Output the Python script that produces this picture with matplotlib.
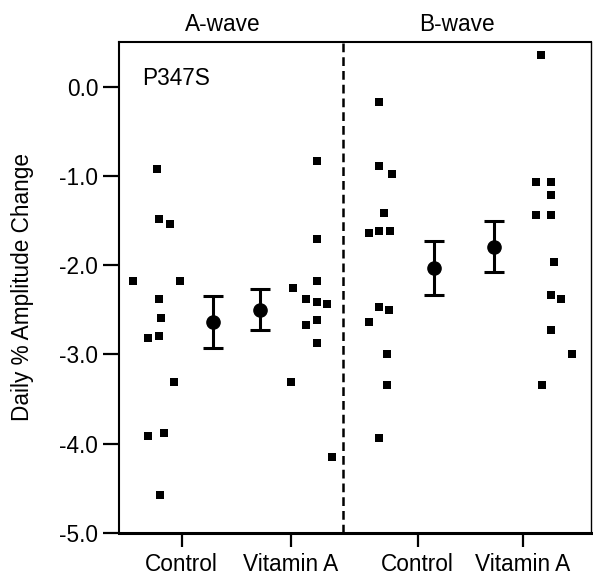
import matplotlib
matplotlib.use("Agg")
import matplotlib.pyplot as plt
from matplotlib.transforms import blended_transform_factory

plt.rcParams['font.family'] = ['Liberation Sans', 'DejaVu Sans']

# ---- data (x in arbitrary horizontal units 0..100, y in daily % change) ----
tick_pos = [13.3, 36.4, 63.3, 85.6]
tick_labels = ["Control", "Vitamin A", "Control", "Vitamin A"]
divider_x = 47.5
wave_labels = ["A-wave", "B-wave"]
wave_label_x = [22.0, 71.6]

ctrlA_x = [2.9, 8.1, 8.5, 10.7, 12.9, 8.5, 8.9, 6.2, 8.4, 11.7, 6.2, 9.5, 8.7]
ctrlA_y = [-2.18, -0.92, -1.48, -1.54, -2.18, -2.38, -2.59, -2.82, -2.79, -3.31, -3.91, -3.885, -4.58]

vitA_x = [36.9, 41.9, 39.7, 41.9, 44.1, 39.7, 41.9, 41.9, 36.4, 45.1, 42.0, 41.9]
vitA_y = [-2.26, -2.18, -2.38, -2.41, -2.44, -2.67, -2.61, -2.87, -3.31, -4.15, -0.835, -1.71]

ctrlB_x = [55.1, 55.1, 57.9, 56.2, 53.0, 55.1, 57.4, 55.1, 57.3, 53.0, 56.7, 56.7, 55.0]
ctrlB_y = [-0.17, -0.89, -0.98, -1.41, -1.64, -1.62, -1.62, -2.47, -2.50, -2.64, -2.99, -3.34, -3.94]

vitB_x = [89.5, 88.3, 91.5, 91.5, 88.3, 91.5, 92.2, 91.5, 93.7, 91.5, 95.9, 89.7]
vitB_y = [0.35, -1.07, -1.07, -1.21, -1.44, -1.44, -1.965, -2.33, -2.38, -2.73, -2.99, -3.34]

mean_x = [20.0, 29.9, 66.7, 79.4]
mean_y = [-2.64, -2.50, -2.03, -1.80]
err_lo = [0.29, 0.23, 0.30, 0.28]
err_hi = [0.29, 0.23, 0.30, 0.29]

yticks = [0.0, -1.0, -2.0, -3.0, -4.0, -5.0]

FS = 16.3

# ---- figure ----
fig = plt.figure(figsize=(5.93, 5.77), dpi=100)
ax = fig.add_axes([0.2007, 0.0763, 0.7959, 0.8509])

for xs, ys in [(ctrlA_x, ctrlA_y), (vitA_x, vitA_y), (ctrlB_x, ctrlB_y), (vitB_x, vitB_y)]:
    ax.plot(xs, ys, linestyle='none', marker='s', markersize=5.2, color='black',
            markeredgewidth=0)

ax.errorbar(mean_x, mean_y, yerr=[err_lo, err_hi], fmt='o', color='black',
            markersize=9.5, elinewidth=2.2, capsize=7, capthick=2.2)

ax.axvline(divider_x, color='black', linestyle=(0, (3.5, 2.0)), linewidth=1.8)

ax.set_xlim(0, 100)
ax.set_ylim(-5.0, 0.5)
ax.set_yticks(yticks)
ax.set_yticklabels([f"{v:.1f}" for v in yticks])
ax.set_xticks(tick_pos)
ax.set_xticklabels(tick_labels)

ax.tick_params(axis='y', length=11.5, width=1.6, pad=3.5, labelsize=FS)
ax.tick_params(axis='x', length=10, width=1.6, pad=4.5, labelsize=FS)

for side in ['left', 'top', 'right']:
    ax.spines[side].set_linewidth(1.5)
ax.spines['bottom'].set_linewidth(2.2)
ax.spines['right'].set_linewidth(1.0)

ax.set_ylabel("Daily % Amplitude Change", fontsize=FS, labelpad=18)

trans = blended_transform_factory(ax.transData, ax.transAxes)
for lbl, xx in zip(wave_labels, wave_label_x):
    ax.text(xx, 1.012, lbl, transform=trans, ha='center', va='bottom', fontsize=FS)

ax.text(0.05, 0.925, "P347S", transform=ax.transAxes, ha='left', va='center', fontsize=FS)

fig.savefig("out.png", dpi=100)
